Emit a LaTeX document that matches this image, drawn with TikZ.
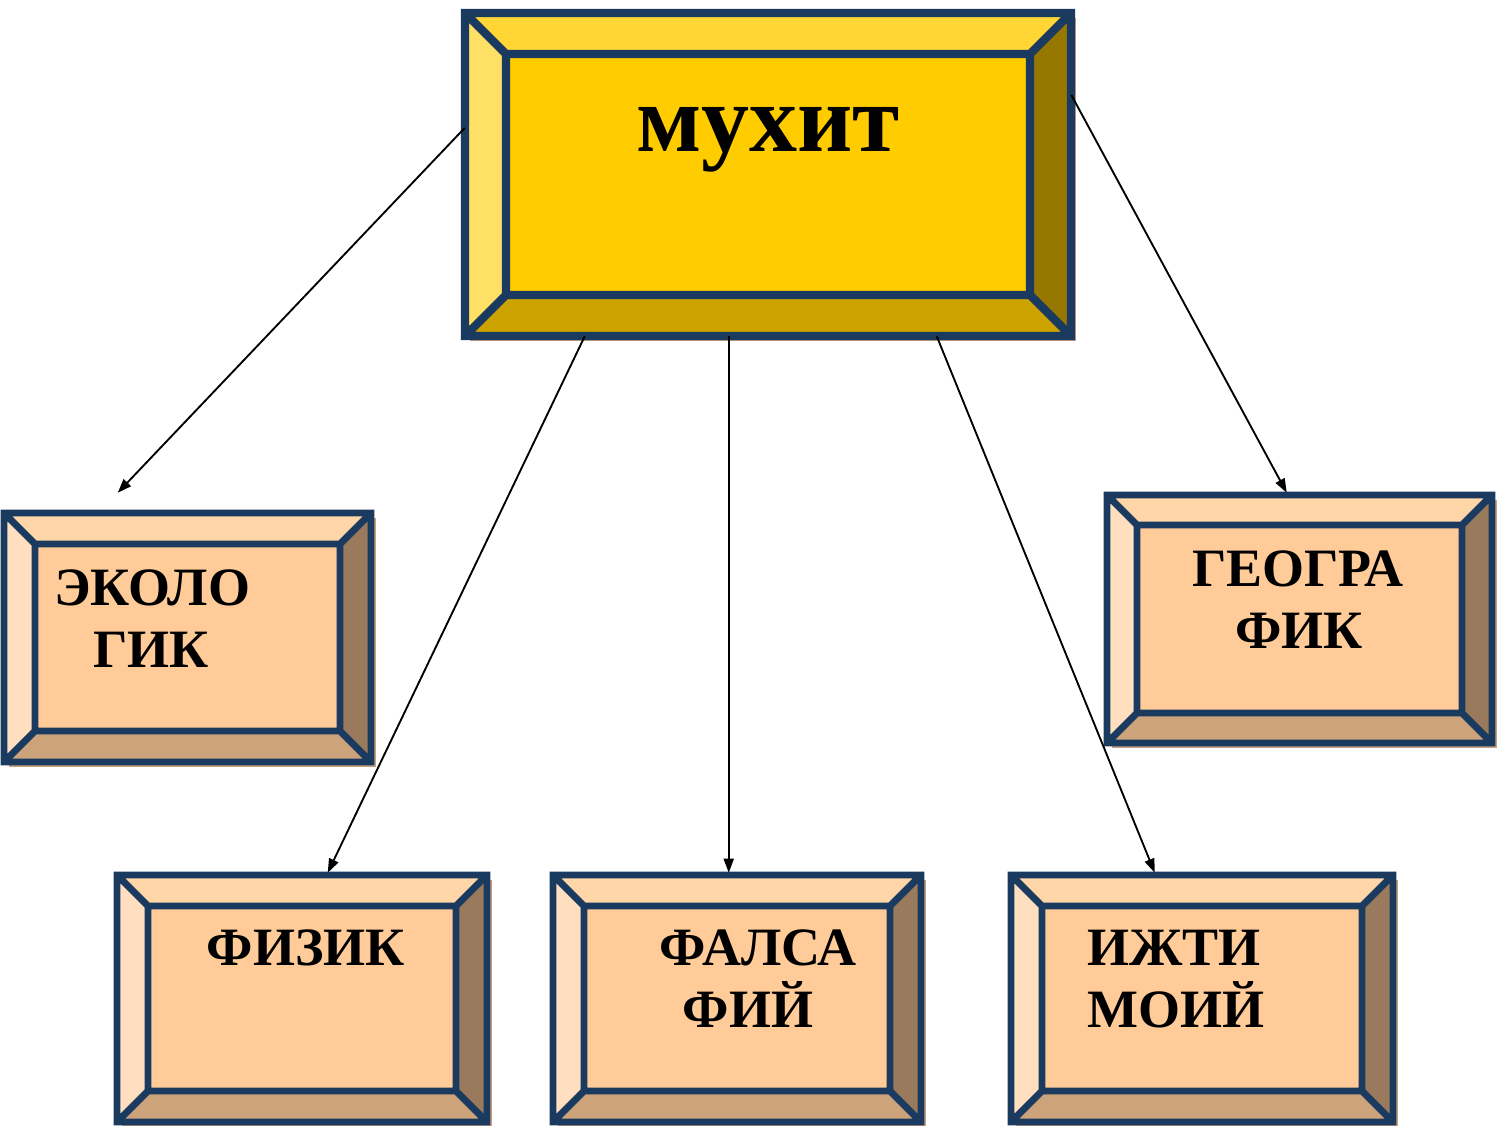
\documentclass[tikz,border=0pt]{standalone}
\usepackage{fontspec}
\setmainfont{Liberation Serif}
\usetikzlibrary{calc,arrows.meta}
\definecolor{outl}{HTML}{1B3A60}
\definecolor{shadowc}{HTML}{C8A07E}
\definecolor{mainT}{HTML}{FFD633}
\definecolor{mainL}{HTML}{FFE066}
\definecolor{mainC}{HTML}{FFCC00}
\definecolor{mainR}{HTML}{967800}
\definecolor{mainB}{HTML}{CCA300}
\definecolor{smT}{HTML}{FFD6A8}
\definecolor{smL}{HTML}{FFDFC0}
\definecolor{smC}{HTML}{FFCC99}
\definecolor{smR}{HTML}{9A7A5C}
\definecolor{smB}{HTML}{CCA37A}
\tikzset{
  mainline/.style={line width=6.3pt},
  smline/.style={line width=5.2pt},
  conn/.style={black, line width=1.4pt, -{Triangle[length=10.5pt,width=7.5pt]}},
  bigtxt/.style={font=\bfseries\fontsize{72}{80}\selectfont, inner sep=0pt, anchor=base},
  smtxt/.style={font=\bfseries\fontsize{40.5}{46}\selectfont, inner sep=0pt, anchor=base},
}
% #1 name, #2 x1, #3 y1, #4 x2, #5 y2, #6 inset, #7 colour prefix
\newcommand\bvbox[7]{%
  \fill[shadowc] (#2+5,#3+5) rectangle (#4+5,#5+5);
  \fill[#7T] (#2,#3) -- (#4,#3) -- (#4-#6,#3+#6) -- (#2+#6,#3+#6) -- cycle;
  \fill[#7L] (#2,#3) -- (#2+#6,#3+#6) -- (#2+#6,#5-#6) -- (#2,#5) -- cycle;
  \fill[#7R] (#4,#3) -- (#4,#5) -- (#4-#6,#5-#6) -- (#4-#6,#3+#6) -- cycle;
  \fill[#7B] (#2,#5) -- (#4,#5) -- (#4-#6,#5-#6) -- (#2+#6,#5-#6) -- cycle;
  \fill[#7C] (#2+#6,#3+#6) rectangle (#4-#6,#5-#6);
  \draw[outl, #7line, line join=miter]
    (#2,#3) rectangle (#4,#5)
    (#2+#6,#3+#6) rectangle (#4-#6,#5-#6)
    (#2,#3) -- (#2+#6,#3+#6)
    (#4,#3) -- (#4-#6,#3+#6)
    (#2,#5) -- (#2+#6,#5-#6)
    (#4,#5) -- (#4-#6,#5-#6);
  \node[inner sep=0pt, minimum width={(#4-#2)*0.75pt}, minimum height={(#5-#3)*0.75pt}]
    (#1) at ({(#2+#4)/2},{(#3+#5)/2}) {};
}
\begin{document}
\begin{tikzpicture}[x=0.75pt,y=-0.75pt]
\useasboundingbox (0,0) rectangle (1502,1126);
\fill[white] (0,0) rectangle (1502,1126);

\bvbox{main}{465}{13}{1071}{336}{41}{main}
\bvbox{eco}{4}{513}{371}{762}{31}{sm}
\bvbox{geo}{1107}{495}{1492}{743}{30}{sm}
\bvbox{fiz}{117}{875}{487}{1122}{31}{sm}
\bvbox{fal}{553}{875}{921}{1122}{31}{sm}
\bvbox{izh}{1011}{875}{1393}{1122}{31}{sm}

\node[bigtxt] (tmain) at (768,152) {мухит};
\node[smtxt] (teco1) at (152,605) {ЭКОЛО};
\node[smtxt] (teco2) at (151,667) {ГИК};
\node[smtxt] (tgeo1) at (1298,586) {ГЕОГРА};
\node[smtxt] (tgeo2) at (1299,648) {ФИК};
\node[smtxt] (tfiz) at (306,965) {ФИЗИК};
\node[smtxt] (tfal1) at (758,965) {ФАЛСА};
\node[smtxt] (tfal2) at (748,1027) {ФИЙ};
\node[smtxt] (tizh1) at (1174,965) {ИЖТИ};
\node[smtxt] (tizh2) at (1176,1027) {МОИЙ};

\draw[conn] ($(main.north west)!0.356!(main.south west)$) -- ($(eco.north west)+(114,-20)$);
\draw[conn] ($(main.south west)+(120,0)$) -- ($(fiz.north west)+(211,-2)$);
\draw[conn] ($(main.south west)+(264,0)$) -- ($(fal.north west)+(176,-2)$);
\draw[conn] ($(main.south west)+(472,0)$) -- ($(izh.north west)+(144,-2)$);
\draw[conn] ($(main.north east)!0.254!(main.south east)$) -- ($(geo.north west)+(180,-2)$);
\end{tikzpicture}
\end{document}
